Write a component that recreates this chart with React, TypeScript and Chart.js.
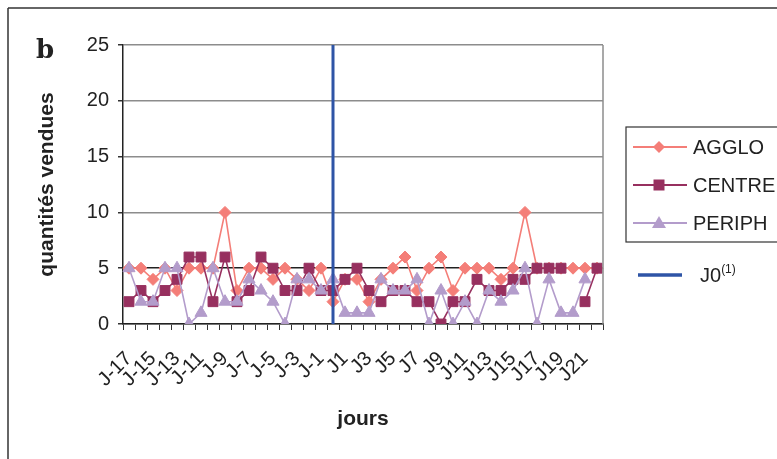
import { useEffect, useRef } from 'react';
import { Chart, registerables } from 'chart.js';

Chart.register(...registerables);

const categories = [
  'J-17', 'J-16', 'J-15', 'J-14', 'J-13', 'J-12', 'J-11', 'J-10', 'J-9', 'J-8',
  'J-7', 'J-6', 'J-5', 'J-4', 'J-3', 'J-2', 'J-1', 'J0', 'J1', 'J2',
  'J3', 'J4', 'J5', 'J6', 'J7', 'J8', 'J9', 'J10', 'J11', 'J12',
  'J13', 'J14', 'J15', 'J16', 'J17', 'J18', 'J19', 'J20', 'J21', 'J22',
];

const agglo = [
  5, 5, 4, 5, 3, 5, 5, 5, 10, 3,
  5, 5, 4, 5, 4, 3, 5, 2, 4, 4,
  2, 4, 5, 6, 3, 5, 6, 3, 5, 5,
  5, 4, 5, 10, 5, 5, 5, 5, 5, 5,
];

const centre = [
  2, 3, 2, 3, 4, 6, 6, 2, 6, 2,
  3, 6, 5, 3, 3, 5, 3, 3, 4, 5,
  3, 2, 3, 3, 2, 2, 0, 2, 2, 4,
  3, 3, 4, 4, 5, 5, 5, null, 2, 5,
];

const periph = [
  5, 2, 2, 5, 5, 0, 1, 5, 2, 2,
  4, 3, 2, 0, 4, 4, 3, 4, 1, 1,
  1, 4, 3, 3, 4, 0, 3, 0, 2, 0,
  3, 2, 3, 5, 0, 4, 1, 1, 4, null,
];

const j0Category = 'J0';
const j0Range = [0, 25];

const yMin = 0;
const yMax = 25;
const yStep = 5;

const seriesNames = ['AGGLO', 'CENTRE', 'PERIPH'];
const j0Name = 'J0';

const COL_AGGLO = '#F47E78';
const COL_CENTRE = '#97305F';
const COL_PERIPH = '#B39CCB';
const COL_J0 = '#2E54A6';
const FONT = '"Liberation Sans", Arial, sans-serif';

const plotBorder = {
  id: 'plotBorder',
  afterDatasetsDraw(chart: any) {
    const { ctx, chartArea } = chart;
    ctx.save();
    ctx.strokeStyle = '#8c8c8c';
    ctx.lineWidth = 1.5;
    ctx.beginPath();
    ctx.moveTo(chartArea.right, chartArea.top);
    ctx.lineTo(chartArea.right, chartArea.bottom);
    ctx.stroke();
    ctx.restore();
  },
};

export default function App() {
  const ref = useRef<HTMLCanvasElement | null>(null);

  useEffect(() => {
    if (!ref.current) return;
    const chart = new Chart(ref.current, {
      type: 'line',
      data: {
        labels: categories,
        datasets: [
          {
            label: seriesNames[0],
            data: agglo,
            borderColor: COL_AGGLO,
            backgroundColor: COL_AGGLO,
            borderWidth: 1.6,
            pointStyle: 'rectRot',
            pointRadius: 6,
            pointBorderWidth: 1,
            order: 4,
          },
          {
            label: seriesNames[1],
            data: centre,
            borderColor: COL_CENTRE,
            backgroundColor: COL_CENTRE,
            borderWidth: 1.6,
            pointStyle: 'rect',
            pointRadius: 7,
            pointBorderWidth: 1,
            spanGaps: false,
            order: 3,
          },
          {
            label: seriesNames[2],
            data: periph,
            borderColor: COL_PERIPH,
            backgroundColor: COL_PERIPH,
            borderWidth: 1.6,
            pointStyle: 'triangle',
            pointRadius: 7,
            pointBorderWidth: 1,
            spanGaps: false,
            order: 2,
          },
          {
            label: j0Name,
            data: j0Range.map((v) => ({ x: j0Category, y: v })) as any,
            borderColor: COL_J0,
            backgroundColor: COL_J0,
            borderWidth: 3,
            pointRadius: 0,
            order: 1,
          },
        ],
      },
      options: {
        responsive: false,
        animation: false,
        layout: { padding: { left: 0, top: 45, right: 174, bottom: 0 } },
        plugins: {
          legend: { display: false },
          tooltip: { enabled: false },
        },
        scales: {
          x: {
            type: 'category',
            offset: true,
            afterFit: (s: any) => { s.height = 135; },
            grid: {
              display: true,
              drawOnChartArea: false,
              drawTicks: true,
              tickLength: 6,
              color: '#333',
              offset: true,
            },
            border: { color: '#222', width: 1.5 },
            ticks: {
              autoSkip: false,
              minRotation: 45,
              maxRotation: 45,
              color: '#222',
              padding: 17,
              font: { family: FONT, size: 20 },
              callback: (_v: any, i: number) => (i % 2 === 0 ? categories[i] : ''),
            },
            title: {
              display: true,
              text: 'jours',
              color: '#222',
              font: { family: FONT, size: 21, weight: 'bold' },
              padding: { top: 0, bottom: 27 },
            },
          },
          y: {
            min: yMin,
            max: yMax,
            afterFit: (s: any) => { s.width = 123; },
            grid: {
              color: (c: any) => (c.tick && c.tick.value === 5 ? '#222' : '#8c8c8c'),
              lineWidth: 1.5,
              tickColor: '#333',
              tickLength: 5,
            },
            border: { color: '#222', width: 1.5 },
            ticks: {
              stepSize: yStep,
              color: '#222',
              padding: 9,
              font: { family: FONT, size: 20 },
            },
            title: {
              display: true,
              text: 'quantités vendues',
              color: '#222',
              font: { family: FONT, size: 21, weight: 'bold' },
              padding: { top: 35, bottom: 0 },
            },
          },
        },
      },
      plugins: [plotBorder],
    });
    return () => chart.destroy();
  }, []);

  const legendRows = [
    { name: seriesNames[0], color: COL_AGGLO, y: 147, shape: 'diamond' },
    { name: seriesNames[1], color: COL_CENTRE, y: 185, shape: 'square' },
    { name: seriesNames[2], color: COL_PERIPH, y: 223, shape: 'triangle' },
  ];

  return (
    <div style={{ position: 'absolute', left: 0, top: 0, width: 777, height: 459, overflow: 'hidden', background: '#fff' }}>
      <canvas ref={ref} width={777} height={459} style={{ position: 'absolute', left: 0, top: 0 }} />
      <svg width={777} height={459} style={{ position: 'absolute', left: 0, top: 0, pointerEvents: 'none' }}>
        <line x1={8} y1={8} x2={777} y2={8} stroke="#333" strokeWidth={1.5} />
        <line x1={8} y1={8} x2={8} y2={459} stroke="#333" strokeWidth={1.5} />
        <text x={36} y={58} fontFamily="DejaVu Serif, serif" fontSize={26} fontWeight="bold" fill="#222">b</text>
        <rect x={626} y={127} width={170} height={115} fill="#fff" stroke="#333" strokeWidth={1.2} />
        {legendRows.map((r) => (
          <g key={r.name}>
            <line x1={633} y1={r.y} x2={687} y2={r.y} stroke={r.color} strokeWidth={2} />
            {r.shape === 'diamond' && (
              <polygon points={`659,${r.y - 6} 665,${r.y} 659,${r.y + 6} 653,${r.y}`} fill={r.color} />
            )}
            {r.shape === 'square' && (
              <rect x={653.5} y={r.y - 5.5} width={11} height={11} fill={r.color} />
            )}
            {r.shape === 'triangle' && (
              <polygon points={`659,${r.y - 7} 666,${r.y + 5} 652,${r.y + 5}`} fill={r.color} />
            )}
            <text x={693} y={r.y + 7} fontFamily={FONT} fontSize={20} fill="#222">{r.name}</text>
          </g>
        ))}
        <line x1={638} y1={275} x2={682} y2={275} stroke={COL_J0} strokeWidth={3.5} />
        <text x={700} y={282} fontFamily={FONT} fontSize={20} fill="#222">
          {j0Name}
          <tspan fontSize={12} dy={-9}>(1)</tspan>
        </text>
      </svg>
    </div>
  );
}
